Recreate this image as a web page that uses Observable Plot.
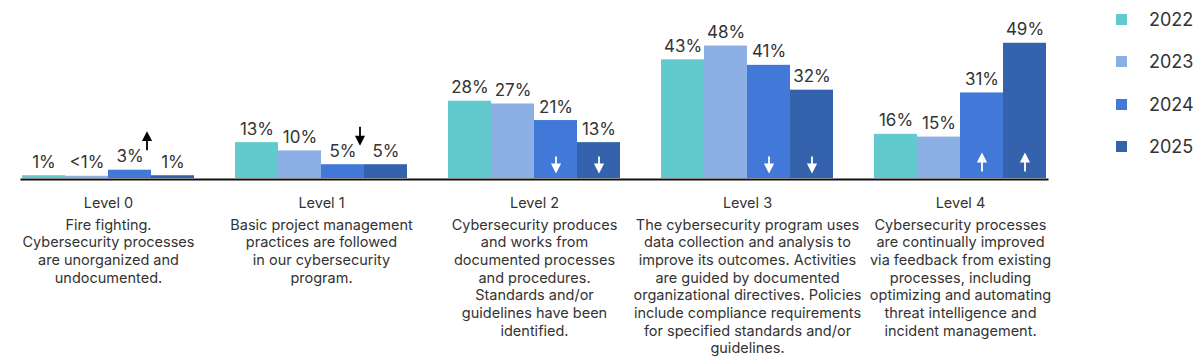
<!DOCTYPE html>
<html>
<head>
<meta charset="utf-8">
<script src="https://cdn.jsdelivr.net/npm/d3@7"></script>
<script src="https://cdn.jsdelivr.net/npm/@observablehq/plot@0.6"></script>
<style>
  html, body { margin: 0; padding: 0; background: #fff; }
  #wrap { position: relative; width: 1200px; height: 362px; font-family: Inter, "Noto Sans", sans-serif; }
  #legend { position: absolute; left: 1116px; top: -2px; }
  #legend .row { height: 42.5px; display: flex; align-items: center; font-size: 18px; color: #333; }
  #legend .sw { width: 11px; height: 11px; margin-right: 22px; }
</style>
</head>
<body>
<div id="wrap"><div id="legend"></div></div>
<script>
const levels = ["Level 0", "Level 1", "Level 2", "Level 3", "Level 4"];
const years = ["2022", "2023", "2024", "2025"];
const v2022 = [1, 13, 28, 43, 16];
const v2023 = [0.8, 10, 27, 48, 15];
const v2024 = [3, 5, 21, 41, 31];
const v2025 = [1, 5, 13, 32, 49];
const l2022 = ["1%", "13%", "28%", "43%", "16%"];
const l2023 = ["<1%", "10%", "27%", "48%", "15%"];
const l2024 = ["3%", "5%", "21%", "41%", "31%"];
const l2025 = ["1%", "5%", "13%", "32%", "49%"];
const colors = ["#62c9cf", "#8cafe6", "#4279d8", "#3562ad"];
const descriptions = [
  "Fire fighting.\nCybersecurity processes\nare unorganized and\nundocumented.",
  "Basic project management\npractices are followed\nin our cybersecurity\nprogram.",
  "Cybersecurity produces\nand works from\ndocumented processes\nand procedures.\nStandards and/or\nguidelines have been\nidentified.",
  "The cybersecurity program uses\ndata collection and analysis to\nimprove its outcomes. Activities\nare guided by documented\norganizational directives. Policies\ninclude compliance requirements\nfor specified standards and/or\nguidelines.",
  "Cybersecurity processes\nare continually improved\nvia feedback from existing\nprocesses, including\noptimizing and automating\nthreat intelligence and\nincident management."
];
// trend arrows
const arrowLevels = ["Level 0", "Level 1", "Level 2", "Level 2", "Level 3", "Level 3", "Level 4", "Level 4"];
const arrowYears = ["2024", "2024", "2024", "2025", "2024", "2025", "2024", "2025"];
const arrowDirs = ["up", "down", "down", "down", "down", "down", "up", "up"];
const arrowPlace = ["outside", "outside", "inside", "inside", "inside", "inside", "inside", "inside"];

const series = {"2022": [v2022, l2022], "2023": [v2023, l2023], "2024": [v2024, l2024], "2025": [v2025, l2025]};
const bars = [];
levels.forEach((lv, i) => years.forEach(y => bars.push({level: lv, year: y, value: series[y][0][i], label: series[y][1][i]})));
const levelRows = levels.map((lv, i) => ({level: lv, desc: descriptions[i]}));
const arrows = arrowLevels.map((lv, i) => {
  const li = levels.indexOf(lv);
  return {level: lv, year: arrowYears[i], dir: arrowDirs[i], place: arrowPlace[i], value: series[arrowYears[i]][0][li]};
});

const arrowShape = {
  draw(ctx, l, r) {
    const hh = 7, hw = 3.6;
    ctx.moveTo(0, 0);
    ctx.lineTo(0, -l + hh - 1);
    ctx.moveTo(-hw, -l + hh);
    ctx.lineTo(0, -l);
    ctx.lineTo(hw, -l + hh);
    ctx.closePath();
  }
};

function arrowMark(filter, opts) {
  return Plot.vector(arrows.filter(filter), {
    fx: "level", x: "year", shape: arrowShape, strokeWidth: 1.8,
    strokeLinecap: "butt", strokeLinejoin: "miter", ...opts
  });
}

const chart = Plot.plot({
  width: 1200,
  height: 362,
  marginTop: 40,
  marginBottom: 184,
  marginLeft: 4,
  marginRight: 131,
  style: {fontFamily: "Inter, 'Noto Sans', sans-serif", color: "#333", background: "#fff"},
  fx: {domain: levels, paddingInner: 0.183, paddingOuter: 0.0915, align: 0.436, axis: null, label: null},
  x: {domain: years, padding: 0, axis: null, label: null},
  y: {domain: [0, 50], axis: null, label: null},
  color: {domain: years, range: colors},
  marks: [
    Plot.barY(bars, {fx: "level", x: "year", y: "value", fill: "year"}),
    Plot.frame({anchor: "bottom", facet: "super", stroke: "#111", strokeWidth: 2, dy: 1}),
    Plot.text(bars, {fx: "level", x: "year", y: "value", text: "label", dy: -8, lineAnchor: "bottom", fontSize: 17, fill: "#333"}),
    // outside black arrows
    arrowMark(d => d.place === "outside" && d.dir === "up", {y: "value", dx: 17, dy: -20, length: 17, anchor: "start", rotate: 0, stroke: "#000", fill: "#000"}),
    arrowMark(d => d.place === "outside" && d.dir === "down", {y: "value", dx: 17, dy: -21, length: 17, anchor: "end", rotate: 180, stroke: "#000", fill: "#000"}),
    // inside white arrows
    arrowMark(d => d.place === "inside" && d.dir === "up", {y: () => 0, dy: -7, length: 17, anchor: "start", rotate: 0, stroke: "#fff", fill: "#fff"}),
    arrowMark(d => d.place === "inside" && d.dir === "down", {y: () => 0, dy: -7, length: 15, anchor: "end", rotate: 180, stroke: "#fff", fill: "#fff"}),
    Plot.text(levelRows, {fx: "level", text: "level", frameAnchor: "bottom", lineAnchor: "top", dy: 19, fontSize: 14.5, fill: "#333"}),
    Plot.text(levelRows, {fx: "level", text: "desc", frameAnchor: "bottom", lineAnchor: "top", dy: 38.5, fontSize: 14.5, lineHeight: 1.22, fill: "#333"})
  ]
});
document.getElementById("wrap").prepend(chart);

const color = chart.scale("color");
const legend = d3.select("#legend");
years.forEach((y, i) => {
  const row = legend.append("div").attr("class", "row");
  row.append("div").attr("class", "sw").style("background", color.range[i]);
  row.append("span").text(y);
});
</script>
</body>
</html>
